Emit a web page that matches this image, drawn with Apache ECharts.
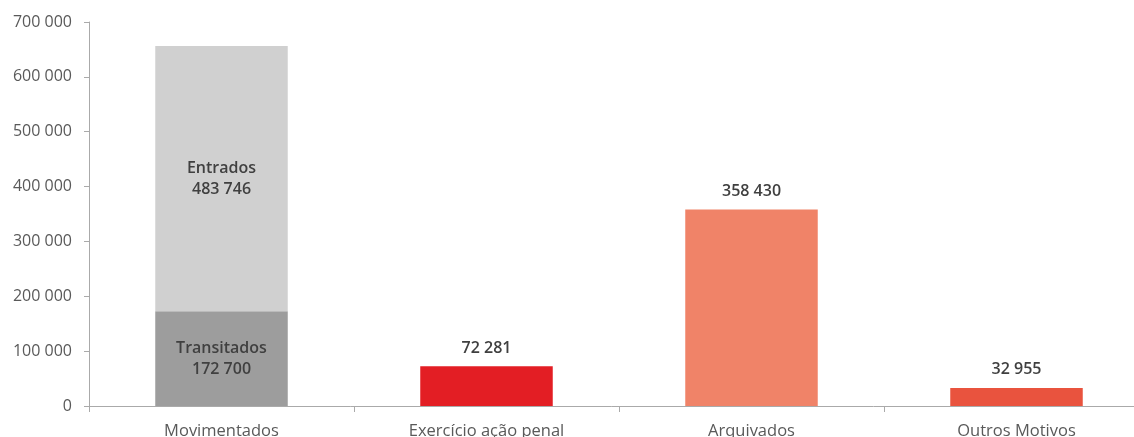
<!DOCTYPE html>
<html><head><meta charset="utf-8">
<script src="https://cdn.jsdelivr.net/npm/echarts@6/dist/echarts.min.js"></script>
<style>html,body{margin:0;padding:0;background:#fff}#c{width:1134px;height:437px}</style>
</head><body><div id="c"></div>
<script>
const categories = ['Movimentados', 'Exercício ação penal', 'Arquivados', 'Outros Motivos'];
const transitados = [172700, '-', '-', '-'];
const entrados = [483746, '-', '-', '-'];
const outcomes = ['-', 72281, 358430, 32955];
const outcomeColors = ['#e31e24', '#e31e24', '#f08368', '#e9533e'];
const yTicks = [0, 100000, 200000, 300000, 400000, 500000, 600000, 700000];

const fmt = v => String(v).replace(/\B(?=(\d{3})+(?!\d))/g, ' ');
const FONT = '"Open Sans", sans-serif';
const axisColor = '#aaaaaa';

const chart = echarts.init(document.getElementById('c'), null, {renderer: 'canvas'});
chart.setOption({
  animation: false,
  textStyle: {fontFamily: FONT},
  grid: {left: 89, top: 22, height: 384, width: 1060, containLabel: false, outerBoundsMode: 'none'},
  xAxis: {
    type: 'category', data: categories,
    axisLine: {lineStyle: {color: axisColor}},
    axisTick: {show: true, length: 6, lineStyle: {color: axisColor}},
    axisLabel: {color: '#595959', fontSize: 16.5, fontFamily: FONT, margin: 17}
  },
  yAxis: {
    type: 'value', min: yTicks[0], max: yTicks[yTicks.length - 1], interval: 100000,
    splitLine: {show: false},
    axisLine: {show: true, lineStyle: {color: axisColor}},
    axisTick: {show: true, length: 5, lineStyle: {color: axisColor}},
    axisLabel: {color: '#595959', fontSize: 16, fontFamily: FONT, margin: 17, formatter: v => fmt(v)}
  },
  series: [
    {
      name: 'Transitados', type: 'bar', stack: 's', data: transitados, barWidth: '50%',
      itemStyle: {color: '#9d9d9d'},
      label: {show: true, position: 'inside', color: '#404040', fontWeight: 600, fontSize: 16, lineHeight: 21, fontFamily: FONT,
        formatter: p => 'Transitados\n' + fmt(p.value)}
    },
    {
      name: 'Entrados', type: 'bar', stack: 's', data: entrados, barWidth: '50%',
      itemStyle: {color: '#d0d0d0'},
      label: {show: true, position: 'inside', color: '#404040', fontWeight: 600, fontSize: 16, lineHeight: 21, fontFamily: FONT,
        formatter: p => 'Entrados\n' + fmt(p.value)}
    },
    {
      name: 'Outros', type: 'bar', stack: 's', barWidth: '50%',
      data: outcomes.map((v, i) => v === '-' ? '-' : {value: v, itemStyle: {color: outcomeColors[i]}}),
      label: {show: true, position: 'top', distance: 10, color: '#404040', fontWeight: 600, fontSize: 16, fontFamily: FONT,
        formatter: p => fmt(p.value)}
    }
  ]
});
</script></body></html>
